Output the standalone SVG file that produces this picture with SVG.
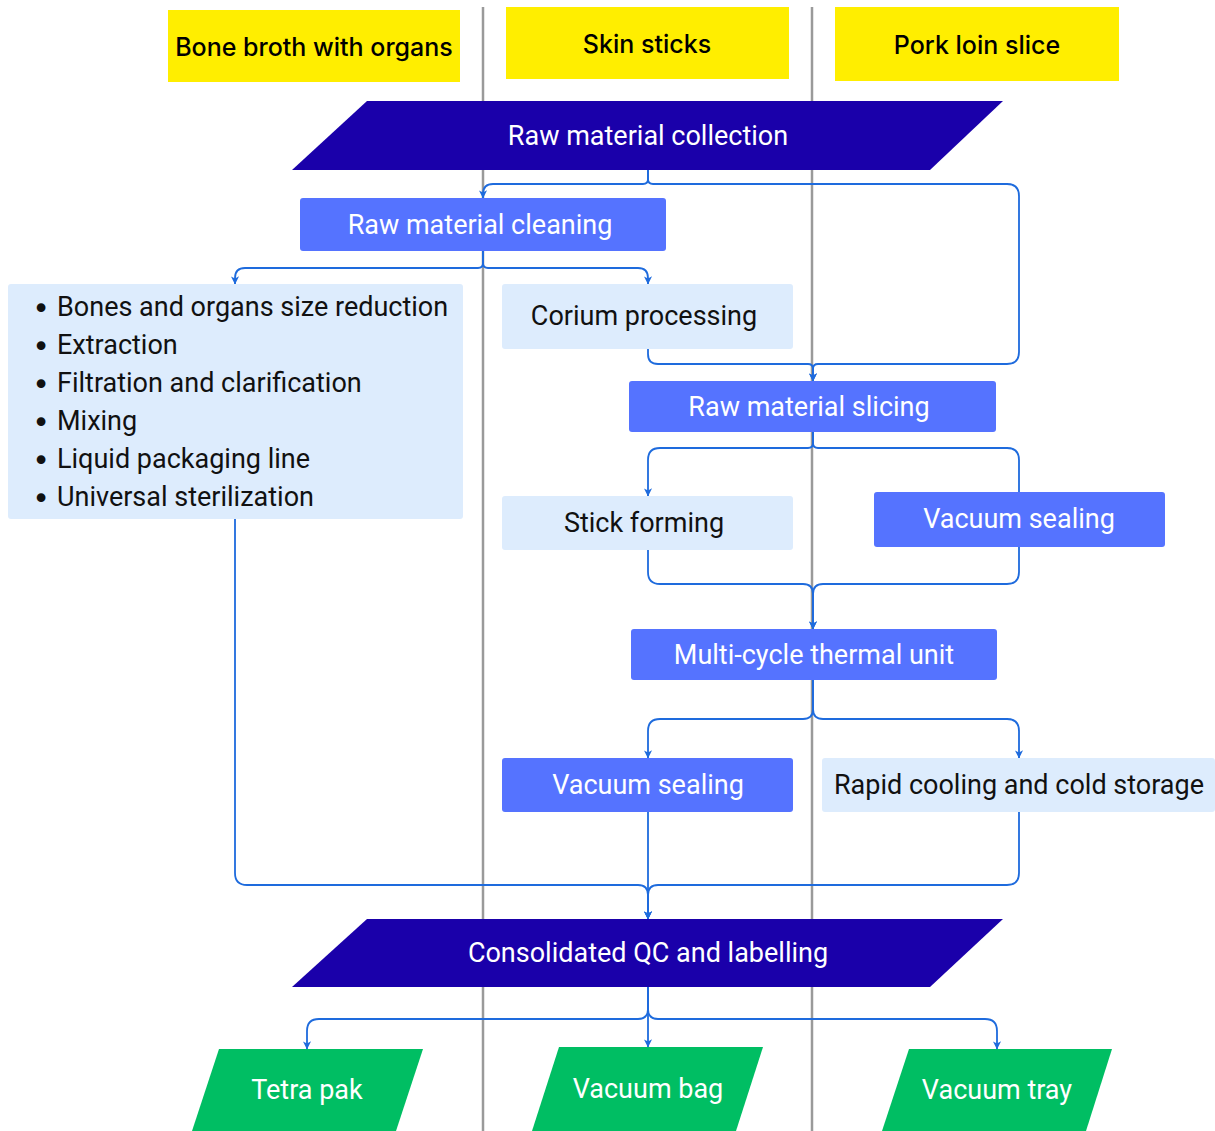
<svg xmlns="http://www.w3.org/2000/svg" width="1215" height="1131" viewBox="0 0 1215 1131">
<defs>
<style>
.lane{stroke:#9a9a9a;stroke-width:2.5;fill:none}
.hdr{fill:#FFEE00}
.htxt{font-family:Inter,"Liberation Sans",sans-serif;font-weight:500;font-size:25px;fill:#000;text-anchor:middle;dominant-baseline:central}
.dark{fill:#1A00AA}
.mid{fill:#5573FF}
.light{fill:#DDECFD}
.green{fill:#00BE63}
.wt{font-family:Roboto,"Liberation Sans",sans-serif;font-size:27px;fill:#fff;text-anchor:middle;dominant-baseline:central}
.bt{font-family:Roboto,"Liberation Sans",sans-serif;font-size:27px;fill:#111;text-anchor:middle;dominant-baseline:central}
.lt{font-family:Roboto,"Liberation Sans",sans-serif;font-size:27px;fill:#111;dominant-baseline:central}
.bul{font-family:"DejaVu Sans",sans-serif;font-size:30px;fill:#111;text-anchor:middle;dominant-baseline:central}
.c{stroke:#1E6BDD;stroke-width:1.8;fill:none}
.a{marker-end:url(#arr)}
</style>
<marker id="arr" viewBox="0 0 10 10" refX="9.5" refY="5" markerWidth="9" markerHeight="9" markerUnits="userSpaceOnUse" orient="auto">
<path d="M1,0.5 L10,5 L1,9.5 L3.5,5 z" fill="#1E6BDD"/>
</marker>
</defs>
<rect width="1215" height="1131" fill="#fff"/>
<g id="lanes">
<line class="lane" x1="483" y1="7" x2="483" y2="1131"/>
<line class="lane" x1="812" y1="7" x2="812" y2="1131"/>
</g>
<g id="headers">
<g id="h-bone"><rect class="hdr" x="168" y="10" width="292" height="72"/><text class="htxt" x="314" y="47">Bone broth with organs</text></g>
<g id="h-skin"><rect class="hdr" x="506" y="7" width="283" height="72"/><text class="htxt" x="647" y="44">Skin sticks</text></g>
<g id="h-pork"><rect class="hdr" x="835" y="7" width="284" height="74"/><text class="htxt" x="977" y="45">Pork loin slice</text></g>
</g>
<g id="connectors">
<path class="c a" d="M648,170 V179 Q648,184 643,184 H493 Q483,184 483,194 V198"/>
<path class="c a" d="M648,170 V179 Q648,184 653,184 H1007 Q1019,184 1019,196 V352 Q1019,364 1007,364 H818 Q813,364 813,369 V381"/>
<path class="c a" d="M483,251 V263 Q483,268 478,268 H245 Q235,268 235,278 V284"/>
<path class="c a" d="M483,251 V263 Q483,268 488,268 H638 Q648,268 648,278 V284"/>
<path class="c a" d="M648,349 V354 Q648,364 658,364 H808 Q813,364 813,369 V381"/>
<path class="c a" d="M813,432 V443 Q813,448 808,448 H660 Q648,448 648,460 V496"/>
<path class="c" d="M813,432 V443 Q813,448 818,448 H1007 Q1019,448 1019,460 V492"/>
<path class="c a" d="M648,550 V572 Q648,584 660,584 H803 Q813,584 813,594 V629"/>
<path class="c a" d="M1019,547 V572 Q1019,584 1007,584 H823 Q813,584 813,594 V629"/>
<path class="c a" d="M813,680 V709 Q813,719 803,719 H660 Q648,719 648,731 V758"/>
<path class="c a" d="M813,680 V709 Q813,719 823,719 H1007 Q1019,719 1019,731 V758"/>
<path class="c a" d="M648,812 V919"/>
<path class="c a" d="M235,519 V873 Q235,885 247,885 H638 Q648,885 648,895 V919"/>
<path class="c a" d="M1019,812 V873 Q1019,885 1007,885 H658 Q648,885 648,895 V919"/>
<path class="c a" d="M648,987 V1009 Q648,1019 638,1019 H319 Q307,1019 307,1031 V1049"/>
<path class="c a" d="M648,987 V1047"/>
<path class="c a" d="M648,987 V1009 Q648,1019 658,1019 H985 Q997,1019 997,1031 V1049"/>
</g>
<g id="n-collection"><polygon class="dark" points="367,101 1003,101 930,170 292,170"/><text class="wt" x="648" y="136">Raw material collection</text></g>
<g id="n-cleaning"><rect class="mid" x="300" y="198" width="366" height="53" rx="3"/><text class="wt" x="480" y="225">Raw material cleaning</text></g>
<g id="n-broth">
<rect class="light" x="8" y="284" width="455" height="235" rx="3"/>
<text class="bul" x="41" y="308">•</text><text class="lt" x="57" y="307">Bones and organs size reduction</text>
<text class="bul" x="41" y="346">•</text><text class="lt" x="57" y="345">Extraction</text>
<text class="bul" x="41" y="384">•</text><text class="lt" x="57" y="383">Filtration and clarification</text>
<text class="bul" x="41" y="422">•</text><text class="lt" x="57" y="421">Mixing</text>
<text class="bul" x="41" y="460">•</text><text class="lt" x="57" y="459">Liquid packaging line</text>
<text class="bul" x="41" y="498">•</text><text class="lt" x="57" y="497">Universal sterilization</text>
</g>
<g id="n-corium"><rect class="light" x="502" y="284" width="291" height="65" rx="3"/><text class="bt" x="644" y="316">Corium processing</text></g>
<g id="n-slicing"><rect class="mid" x="629" y="381" width="367" height="51" rx="3"/><text class="wt" x="809" y="407">Raw material slicing</text></g>
<g id="n-stick"><rect class="light" x="502" y="496" width="291" height="54" rx="3"/><text class="bt" x="644" y="523">Stick forming</text></g>
<g id="n-vac1"><rect class="mid" x="874" y="492" width="291" height="55" rx="3"/><text class="wt" x="1019" y="519">Vacuum sealing</text></g>
<g id="n-thermal"><rect class="mid" x="631" y="629" width="366" height="51" rx="3"/><text class="wt" x="814" y="655">Multi-cycle thermal unit</text></g>
<g id="n-vac2"><rect class="mid" x="502" y="758" width="291" height="54" rx="3"/><text class="wt" x="648" y="785">Vacuum sealing</text></g>
<g id="n-cooling"><rect class="light" x="822" y="758" width="393" height="54" rx="3"/><text class="bt" x="1019" y="785">Rapid cooling and cold storage</text></g>
<g id="n-qc"><polygon class="dark" points="367,919 1003,919 930,987 292,987"/><text class="wt" x="648" y="953">Consolidated QC and labelling</text></g>
<g id="n-tetra"><polygon class="green" points="219,1049 423,1049 396,1131 192,1131"/><text class="wt" x="307" y="1090">Tetra pak</text></g>
<g id="n-bag"><polygon class="green" points="559,1047 763,1047 736,1131 532,1131"/><text class="wt" x="648" y="1089">Vacuum bag</text></g>
<g id="n-tray"><polygon class="green" points="909,1049 1112,1049 1086,1131 882,1131"/><text class="wt" x="997" y="1090">Vacuum tray</text></g>
</svg>
